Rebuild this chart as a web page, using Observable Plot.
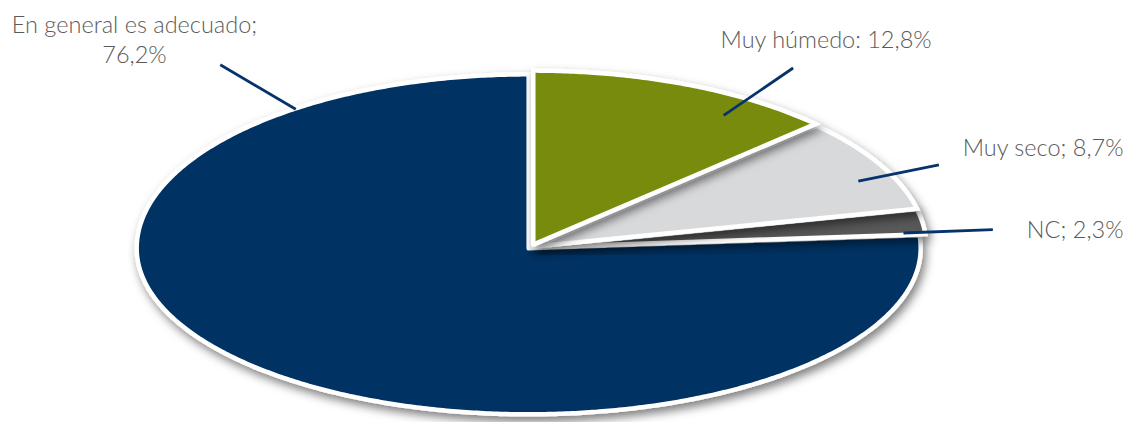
<!DOCTYPE html>
<html><head><meta charset="utf-8">
<script src="https://cdn.jsdelivr.net/npm/d3@7"></script>
<script src="https://cdn.jsdelivr.net/npm/@observablehq/plot@0.6"></script>
<style>
html,body{margin:0;padding:0;background:#fff;}
#chart{width:1133px;height:422px;overflow:hidden;}
</style></head><body><div id="chart"></div>
<script>
// ---- data ----
const categories = ["Muy húmedo", "Muy seco", "NC", "En general es adecuado"];
const values = [12.8, 8.7, 2.3, 76.2];
const labelTexts = ["Muy húmedo: 12,8%", "Muy seco; 8,7%", "NC; 2,3%", "En general es adecuado;\n76,2%"];

// ---- styling / layout ----
const colors = ["#788b09", "#d8d9db", "#595959", "#003263"];
const W = 1133, H = 422;
// tilted pie: far (top) half slightly taller than near half, like the original 3-D view
const pie = {cx: 530, cy: 247, rx: 392, ryTop: 174, ryBottom: 166, explode: [4, 4, 4, 2]};
// leader lines in the pie's own polar frame (angle clockwise from top, radius fraction)
const leaders = [
  {angle: 33, r0: 0.905, r1: 1.23},
  {angle: 65.5, r0: 0.919, r1: 1.145},
  {angle: 85, r0: 0.955, r1: 1.184},
  {angle: 323, r0: 0.995, r1: 1.315}
];
const labelPos = [
  {x: 720, y: 47, anchor: "start"},
  {x: 1123, y: 155, anchor: "end"},
  {x: 1123, y: 237, anchor: "end"},
  {x: 134, y: 62, anchor: "middle"}
];

const rad = d => d * Math.PI / 180;
const ry = a => (Math.cos(rad(a)) >= 0 ? pie.ryTop : pie.ryBottom);
const pt = (a, f, off = [0, 0]) => ({
  x: pie.cx + off[0] + f * pie.rx * Math.sin(rad(a)),
  y: pie.cy + off[1] - f * ry(a) * Math.cos(rad(a))
});

const total = d3.sum(values);
let acc = 0;
const slices = values.map((v, i) => {
  const a0 = acc / total * 360;
  acc += v;
  const a1 = acc / total * 360;
  const m = (a0 + a1) / 2;
  const dx = pie.rx * Math.sin(rad(m)), dy = -ry(m) * Math.cos(rad(m));
  const n = Math.hypot(dx, dy);
  const off = [dx / n * pie.explode[i], dy / n * pie.explode[i]];
  const pts = [pt(0, 0, off)];
  const steps = Math.max(4, Math.ceil((a1 - a0) / 0.5));
  for (let k = 0; k <= steps; k++) pts.push(pt(a0 + (a1 - a0) * k / steps, 1, off));
  pts.push(pt(0, 0, off));
  return {category: categories[i], color: colors[i], pts};
});

const leaderData = leaders.map((l, i) => {
  const p0 = pt(l.angle, l.r0), p1 = pt(l.angle, l.r1);
  return {x1: p0.x, y1: p0.y, x2: p1.x, y2: p1.y, cat: categories[i]};
});
const textData = labelTexts.map((t, i) => ({text: t, ...labelPos[i]}));

const drawOrder = [3, 2, 1, 0];
const marks = drawOrder.map(i => Plot.line(slices[i].pts, {
  x: "x", y: "y", fill: slices[i].color, stroke: "white", strokeWidth: 4.5,
  strokeLinejoin: "miter", strokeMiterlimit: 4, curve: "linear"
}));
marks.push(Plot.link(leaderData, {x1: "x1", y1: "y1", x2: "x2", y2: "y2", stroke: "#06336b", strokeWidth: 2.8}));
["start", "end", "middle"].forEach(anchor => {
  marks.push(Plot.text(textData.filter(d => d.anchor === anchor), {
    x: "x", y: "y", text: "text", textAnchor: anchor, lineAnchor: "bottom",
    lineHeight: 1.25, fontSize: 23.5, fill: "#5b5b5b", fontWeight: 300
  }));
});

const svg = Plot.plot({
  width: W, height: H, margin: 0,
  style: {fontFamily: "Lato, 'Open Sans', sans-serif", background: "white", overflow: "visible"},
  x: {domain: [0, W], range: [0, W], axis: null},
  y: {domain: [0, H], range: [0, H], axis: null},
  marks
});

// soft drop shadow like the original
const ns = "http://www.w3.org/2000/svg";
const defs = document.createElementNS(ns, "defs");
defs.innerHTML = `<filter id="shadow" x="-10%" y="-10%" width="120%" height="130%">
  <feDropShadow dx="3" dy="5" stdDeviation="5" flood-color="#000" flood-opacity="0.5"/>
</filter>`;
svg.insertBefore(defs, svg.firstChild);
svg.querySelectorAll('g[aria-label="line"]').forEach(g => g.setAttribute("filter", "url(#shadow)"));

document.getElementById("chart").appendChild(svg);
</script>
</body></html>
